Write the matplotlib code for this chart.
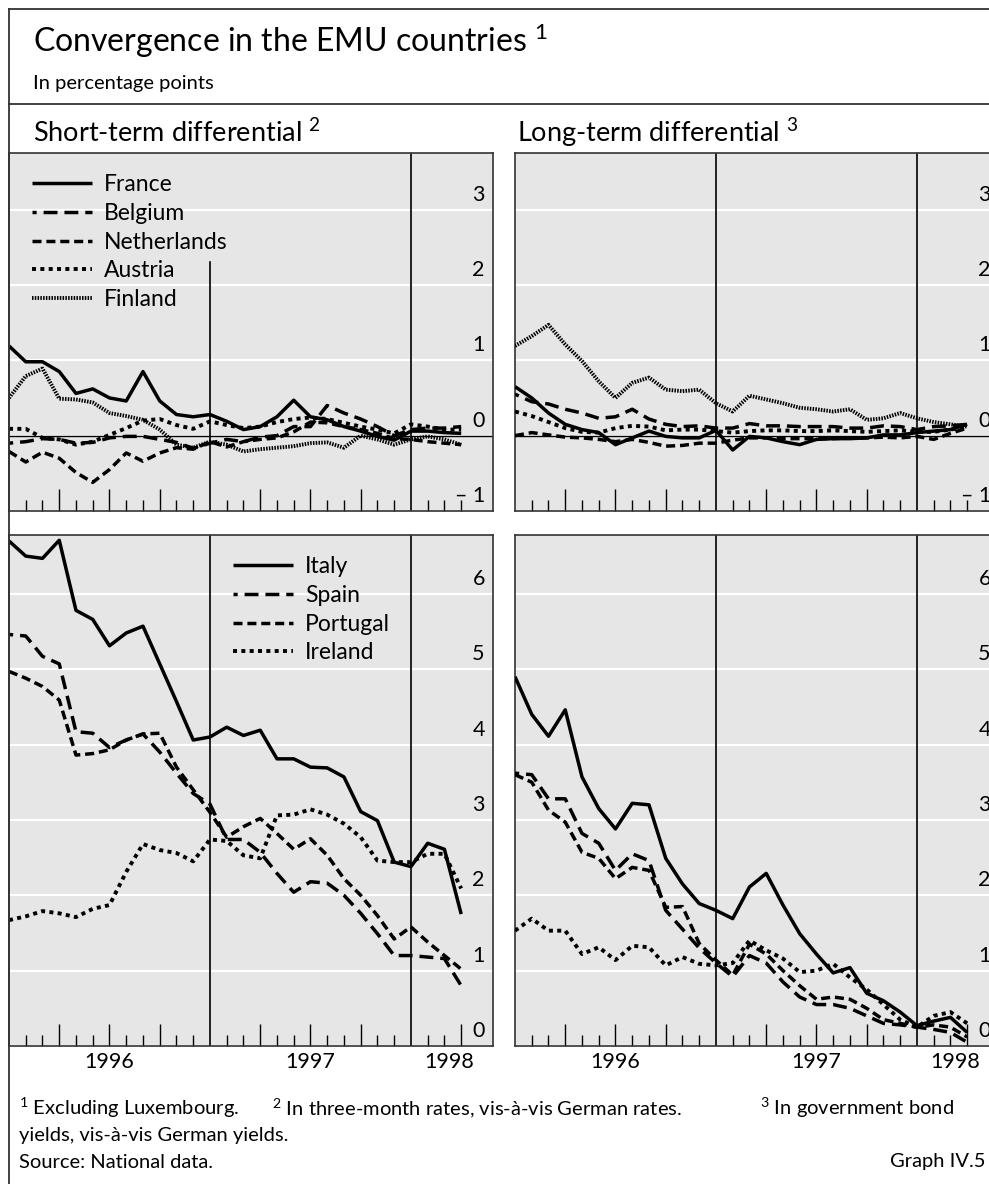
import numpy as np
import matplotlib.pyplot as plt
import matplotlib.transforms as mtransforms
from matplotlib.lines import Line2D

plt.rcParams['font.family'] = ['Lato', 'DejaVu Sans']
plt.rcParams['mathtext.default'] = 'regular'
plt.rcParams['lines.scale_dashes'] = False

BG = '#e6e6e6'
W, H = 989, 1184

# monthly observations, Jan 1996 .. Apr 1998 (0 = Jan 1996)
MONTHS = np.arange(28)

# short-term differential (three-month rates vs German rates), pp
st_france = [1.19, 0.98, 0.98, 0.85, 0.56, 0.62, 0.50, 0.46, 0.85, 0.46, 0.28, 0.25, 0.28, 0.19,
             0.08, 0.12, 0.25, 0.47, 0.25, 0.21, 0.12, 0.06, -0.01, -0.06, 0.06, 0.06, 0.04, 0.03]
st_belgium = [-0.10, -0.08, -0.04, -0.05, -0.10, -0.09, -0.03, -0.01, -0.01, -0.05, -0.09, -0.17, -0.10, -0.05,
              -0.08, -0.02, 0.00, 0.12, 0.12, 0.40, 0.30, 0.22, 0.12, 0.00, 0.08, 0.10, 0.10, 0.12]
st_netherlands = [-0.21, -0.35, -0.22, -0.30, -0.49, -0.62, -0.45, -0.23, -0.34, -0.23, -0.16, -0.18, -0.08, -0.15,
                  -0.08, -0.05, -0.03, 0.05, 0.18, 0.17, 0.12, 0.08, 0.03, -0.04, -0.05, -0.08, -0.10, -0.12]
st_austria = [0.09, 0.09, -0.03, -0.05, -0.12, -0.08, 0.01, 0.10, 0.20, 0.22, 0.14, 0.09, 0.19, 0.14,
              0.10, 0.12, 0.18, 0.22, 0.24, 0.22, 0.17, 0.12, 0.08, 0.03, 0.15, 0.12, 0.08, 0.08]
st_finland = [0.50, 0.79, 0.89, 0.49, 0.48, 0.44, 0.30, 0.26, 0.21, 0.08, -0.12, -0.16, -0.08, -0.12,
              -0.21, -0.18, -0.16, -0.14, -0.10, -0.09, -0.16, 0.00, -0.05, -0.12, -0.05, -0.01, -0.05, -0.12]

# long-term differential (government bond yields vs German yields), pp
lt_france = [0.65, 0.50, 0.30, 0.15, 0.08, 0.04, -0.12, -0.03, 0.06, -0.01, -0.03, -0.03, 0.07, -0.19,
             -0.01, -0.03, -0.08, -0.12, -0.05, -0.04, -0.04, -0.03, 0.01, 0.01, 0.04, 0.06, 0.08, 0.15]
lt_belgium = [0.55, 0.45, 0.42, 0.35, 0.30, 0.23, 0.25, 0.35, 0.22, 0.15, 0.12, 0.13, 0.10, 0.10,
              0.16, 0.13, 0.13, 0.12, 0.12, 0.12, 0.10, 0.10, 0.13, 0.12, 0.08, 0.12, 0.13, 0.15]
lt_netherlands = [0.00, 0.04, 0.01, -0.02, -0.03, -0.05, -0.08, -0.05, -0.09, -0.14, -0.13, -0.10, -0.10, -0.06,
                  -0.03, -0.03, -0.04, -0.04, -0.04, -0.04, -0.03, -0.03, -0.02, -0.03, -0.01, -0.05, 0.03, 0.10]
lt_austria = [0.32, 0.26, 0.18, 0.10, 0.05, 0.04, 0.10, 0.13, 0.12, 0.07, 0.08, 0.08, 0.06, 0.04,
              0.06, 0.07, 0.07, 0.06, 0.06, 0.07, 0.06, 0.05, 0.06, 0.07, 0.05, 0.05, 0.08, 0.12]
lt_finland = [1.19, 1.32, 1.47, 1.21, 0.99, 0.72, 0.50, 0.70, 0.77, 0.61, 0.59, 0.61, 0.43, 0.32,
              0.53, 0.48, 0.43, 0.37, 0.35, 0.32, 0.35, 0.21, 0.23, 0.30, 0.23, 0.18, 0.15, 0.12]

st_italy = [6.70, 6.50, 6.47, 6.71, 5.78, 5.66, 5.31, 5.48, 5.57, 5.07, 4.57, 4.06, 4.10, 4.23,
            4.12, 4.19, 3.81, 3.81, 3.70, 3.69, 3.57, 3.11, 2.99, 2.44, 2.38, 2.69, 2.61, 1.75]
st_spain = [5.46, 5.44, 5.17, 5.07, 4.17, 4.15, 3.96, 4.06, 4.14, 3.90, 3.62, 3.35, 3.21, 2.74,
            2.74, 2.57, 2.29, 2.04, 2.18, 2.16, 2.00, 1.76, 1.49, 1.20, 1.20, 1.18, 1.16, 0.80]
st_portugal = [4.97, 4.88, 4.77, 4.59, 3.86, 3.88, 3.93, 4.06, 4.14, 4.15, 3.70, 3.40, 3.10, 2.77,
               2.91, 3.02, 2.82, 2.61, 2.75, 2.53, 2.22, 2.00, 1.73, 1.42, 1.58, 1.38, 1.20, 1.02]
st_ireland = [1.67, 1.72, 1.79, 1.76, 1.71, 1.82, 1.87, 2.31, 2.68, 2.60, 2.56, 2.45, 2.74, 2.72,
              2.53, 2.49, 3.06, 3.07, 3.14, 3.07, 2.95, 2.77, 2.46, 2.44, 2.44, 2.55, 2.55, 2.09]

lt_italy = [4.90, 4.40, 4.11, 4.46, 3.57, 3.15, 2.88, 3.22, 3.20, 2.49, 2.15, 1.89, 1.80, 1.69,
            2.11, 2.29, 1.87, 1.49, 1.22, 0.97, 1.04, 0.70, 0.60, 0.45, 0.27, 0.33, 0.38, 0.18]
lt_spain = [3.62, 3.60, 3.28, 3.28, 2.82, 2.69, 2.33, 2.55, 2.46, 1.80, 1.55, 1.30, 1.10, 0.92,
            1.20, 1.10, 0.85, 0.65, 0.55, 0.55, 0.50, 0.40, 0.30, 0.28, 0.25, 0.22, 0.18, 0.05]
lt_portugal = [3.60, 3.50, 3.13, 2.97, 2.57, 2.49, 2.22, 2.37, 2.33, 1.84, 1.85, 1.36, 1.14, 0.94,
               1.35, 1.22, 1.00, 0.80, 0.62, 0.65, 0.62, 0.50, 0.35, 0.30, 0.25, 0.28, 0.25, 0.12]
lt_ireland = [1.53, 1.69, 1.53, 1.53, 1.22, 1.31, 1.14, 1.33, 1.31, 1.07, 1.18, 1.09, 1.07, 1.10,
              1.40, 1.27, 1.16, 0.98, 1.00, 1.09, 0.91, 0.75, 0.55, 0.35, 0.25, 0.40, 0.45, 0.30]

GROUP1 = ['France', 'Belgium', 'Netherlands', 'Austria', 'Finland']
GROUP2 = ['Italy', 'Spain', 'Portugal', 'Ireland']
YEARS = ['1996', '1997', '1998']
YEAR_POS = [6, 18, 26.3]

STYLES = {
    'solid':  dict(ls='-', lw=2.5),
    'long':   dict(ls=(7, (10, 5)), lw=2.5),
    'medium': dict(ls=(0, (6.5, 3.5)), lw=2.5),
    'dot':    dict(ls=(0, (2.9, 3.1)), lw=2.8),
    'fine':   dict(ls=(0, (1.1, 0.9)), lw=2.8),
}
STYLE1 = ['solid', 'long', 'medium', 'dot', 'fine']
STYLE2 = ['solid', 'long', 'medium', 'dot']

fig = plt.figure(figsize=(W / 100, H / 100), dpi=100)


def px_axes(x0, y0, x1, y1):
    return fig.add_axes([x0 / W, 1 - y1 / H, (x1 - x0) / W, (y1 - y0) / H])


def setup_panel(ax, ylim, ticks, ticktexts, zero_line, long27):
    ax.set_facecolor(BG)
    ax.set_xlim(0, 28.9)
    ax.set_ylim(*ylim)
    for v in ticks:
        ax.axhline(v, color='white', lw=1.6, zorder=1)
    if zero_line:
        ax.axhline(0, color='black', lw=1.0, zorder=1.5)
    major = [3, 6, 9, 15, 18, 21] + ([27] if long27 else [])
    minor = [m for m in range(1, 28) if m % 12 and m not in major]
    ax.set_xticks(major)
    ax.set_xticks(minor, minor=True)
    ax.set_xticklabels([])
    ax.set_yticks([])
    ax.tick_params(axis='x', which='major', direction='in', length=16, width=1.0, color='black')
    ax.tick_params(axis='x', which='minor', direction='in', length=7.7, width=1.0, color='black')
    for s in ax.spines.values():
        s.set_color('#333333')
        s.set_linewidth(1.2)
    lab_tr = mtransforms.blended_transform_factory(ax.transAxes, ax.transData) + \
        mtransforms.ScaledTranslation(0, 9 / 100, fig.dpi_scale_trans)
    for v, s in zip(ticks, ticktexts):
        ax.text(0.983, v, s, transform=lab_tr, ha='right', va='baseline', fontsize=15.5)


def draw_lines(ax, series, styles):
    handles = []
    for vals, st in zip(series, styles):
        h, = ax.plot(MONTHS, vals, color='black', zorder=3, solid_capstyle='butt',
                     dash_capstyle='butt', **STYLES[st])
        handles.append(h)
    return handles


top_ticks = [3, 2, 1, 0, -1]
top_texts = ['3', '2', '1', '0', '– 1']
bot_ticks = [6, 5, 4, 3, 2, 1, 0]
bot_texts = [str(v) for v in bot_ticks]

ax_tl = px_axes(9, 153, 493, 511)
ax_tr = px_axes(515, 153, 999, 511)
ax_bl = px_axes(9, 535, 493, 1046)
ax_br = px_axes(515, 535, 999, 1046)

for ax in (ax_tl, ax_tr):
    setup_panel(ax, (-1, 3.75), top_ticks, top_texts, True, False)
for ax in (ax_bl, ax_br):
    setup_panel(ax, (0, 6.78), bot_ticks, bot_texts, False, True)

# year separators (the first one in the top-left panel stops below the legend)
ax_tl.axvline(12, ymax=(2.3 + 1) / 4.75, color='black', lw=1.2, zorder=2.5)
ax_tl.axvline(24, color='black', lw=1.2, zorder=2.5)
for ax in (ax_tr, ax_bl, ax_br):
    ax.axvline(12, color='black', lw=1.2, zorder=2.5)
    ax.axvline(24, color='black', lw=1.2, zorder=2.5)

h1 = draw_lines(ax_tl, [st_france, st_belgium, st_netherlands, st_austria, st_finland], STYLE1)
draw_lines(ax_tr, [lt_france, lt_belgium, lt_netherlands, lt_austria, lt_finland], STYLE1)
h2 = draw_lines(ax_bl, [st_italy, st_spain, st_portugal, st_ireland], STYLE2)
draw_lines(ax_br, [lt_italy, lt_spain, lt_portugal, lt_ireland], STYLE2)

leg_kw = dict(loc='upper left', frameon=False, fontsize=16.5, handlelength=2.6,
              handletextpad=0.55, labelspacing=0.33, borderpad=0, borderaxespad=0)
ax_tl.legend(h1, GROUP1, bbox_to_anchor=(0.0475, 0.94), **leg_kw)
ax_bl.legend(h2, GROUP2, bbox_to_anchor=(0.463, 0.958), **leg_kw)

for ax in (ax_bl, ax_br):
    yr_tr = mtransforms.blended_transform_factory(ax.transData, ax.transAxes) + \
        mtransforms.ScaledTranslation(0, -16 / 100, fig.dpi_scale_trans)
    for x, y in zip(YEAR_POS, YEARS):
        ax.text(x, 0, y, transform=yr_tr, ha='center', va='center', fontsize=15.5)

# frame
frame = dict(color='#333333', lw=1.3, transform=fig.transFigure)
fig.add_artist(Line2D([9 / W, 9 / W], [0, 1 - 9 / H], **frame))
fig.add_artist(Line2D([9 / W, 1], [1 - 9 / H, 1 - 9 / H], **frame))
fig.add_artist(Line2D([9 / W, 1], [1 - 104 / H, 1 - 104 / H], **frame))


def ftext(x, y, s, size, **kw):
    fig.text(x / W, 1 - y / H, s, fontsize=size, va='center', **kw)


ftext(33, 41, 'Convergence in the EMU countries $^1$', 23)
ftext(33, 83, 'In percentage points', 14.5)
ftext(33, 133, 'Short-term differential $^2$', 19.5)
ftext(517, 133, 'Long-term differential $^3$', 19.5)

ftext(19, 1108, '$^1$ Excluding Luxembourg.', 14.5)
ftext(272, 1108, '$^2$ In three-month rates, vis-à-vis German rates.', 14.5)
ftext(760, 1108, '$^3$ In government bond', 14.5)
ftext(19, 1135, 'yields, vis-à-vis German yields.', 14.5)
ftext(19, 1162, 'Source: National data.', 14.5)
ftext(985, 1162, 'Graph IV.5', 14.5, ha='right')

fig.savefig('out.png', dpi=100)
